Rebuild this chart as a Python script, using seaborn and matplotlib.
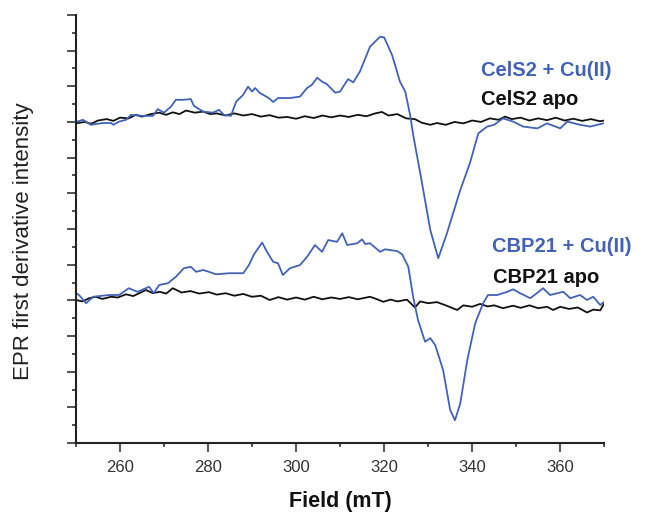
import numpy as np
import pandas as pd
import matplotlib
matplotlib.use("Agg")
import matplotlib.pyplot as plt
import seaborn as sns
from matplotlib.ticker import MultipleLocator

# ---------------- data ----------------
celS2_cu_field = [250.0, 251.6, 253.4, 256.1, 258.0, 258.5, 259.8, 261.4, 262.5, 265.2,
                  267.5, 268.6, 270.0, 271.6, 272.7, 274.3, 276.1, 276.8, 278.9, 281.1,
                  282.5, 283.6, 285.2, 286.4, 288.0, 289.1, 290.0, 290.7, 291.8, 293.4,
                  294.1, 294.8, 295.9, 298.6, 300.9, 302.5, 303.6, 304.8, 305.9, 307.0,
                  308.9, 310.0, 311.8, 313.0, 314.5, 316.8, 319.1, 320.0, 321.8, 323.6,
                  324.8, 325.9, 326.6, 328.2, 330.5, 332.3, 334.3, 337.3, 339.5, 341.4,
                  343.4, 345.0, 347.0, 349.3, 351.6, 354.8, 357.0, 360.0, 361.6, 364.5,
                  366.8, 369.8]
celS2_cu_signal = [9.00, 9.06, 8.92, 8.97, 8.97, 8.92, 9.01, 9.06, 9.20, 9.17,
                   9.17, 9.36, 9.26, 9.43, 9.62, 9.62, 9.64, 9.45, 9.29, 9.26,
                   9.34, 9.20, 9.17, 9.57, 9.76, 9.99, 9.85, 9.95, 9.81, 9.70,
                   9.64, 9.56, 9.67, 9.67, 9.71, 9.95, 10.04, 10.24, 10.13, 10.06,
                   9.82, 9.85, 10.20, 10.11, 10.41, 11.11, 11.39, 11.37, 10.88, 10.13,
                   9.85, 9.20, 8.64, 7.57, 5.97, 5.18, 5.89, 7.09, 7.85, 8.68,
                   8.87, 8.92, 9.10, 9.01, 8.87, 8.82, 8.96, 8.82, 9.01, 8.92,
                   8.87, 8.96]

celS2_apo_field = [250.0, 252.0, 253.5, 255.0, 257.0, 258.5, 260.0, 262.0, 263.6, 265.0,
                   267.0, 268.9, 270.5, 272.0, 273.5, 275.0, 277.0, 278.9, 280.5, 282.0,
                   284.0, 286.0, 288.0, 290.0, 292.0, 294.0, 296.0, 298.0, 300.0, 302.0,
                   304.0, 306.0, 308.0, 310.0, 312.0, 314.0, 316.0, 318.0, 319.5, 321.0,
                   323.0, 325.0, 327.0, 328.5, 330.5, 332.0, 334.0, 336.0, 338.0, 340.0,
                   342.0, 344.0, 346.0, 347.5, 349.0, 351.0, 353.0, 355.0, 357.0, 359.0,
                   361.0, 363.0, 365.0, 367.0, 369.0, 370.0]
celS2_apo_signal = [8.96, 9.00, 8.95, 9.04, 9.08, 9.03, 9.12, 9.10, 9.20, 9.15,
                    9.22, 9.26, 9.20, 9.27, 9.22, 9.32, 9.26, 9.29, 9.22, 9.24,
                    9.18, 9.24, 9.18, 9.22, 9.15, 9.19, 9.12, 9.14, 9.09, 9.16,
                    9.11, 9.18, 9.13, 9.18, 9.14, 9.20, 9.16, 9.24, 9.28, 9.18,
                    9.22, 9.10, 9.08, 8.98, 8.92, 8.97, 8.92, 9.00, 8.96, 9.04,
                    9.00, 9.10, 9.06, 9.15, 9.08, 9.12, 9.04, 9.10, 9.05, 9.12,
                    9.04, 9.09, 9.03, 9.08, 9.02, 9.04]

cbp21_cu_field = [250.0, 250.7, 252.3, 253.9, 257.5, 259.8, 262.0, 264.0, 266.6, 267.7,
                  268.9, 270.9, 272.7, 274.5, 276.1, 277.3, 278.9, 280.2, 281.8, 284.8,
                  288.0, 289.3, 290.5, 292.3, 293.4, 294.8, 295.9, 297.0, 298.6, 300.9,
                  302.5, 304.3, 305.9, 307.3, 309.3, 310.5, 311.6, 313.9, 315.0, 315.7,
                  316.8, 319.1, 320.2, 323.0, 324.1, 325.5, 326.6, 327.7, 329.3, 330.5,
                  331.6, 333.4, 335.0, 336.1, 337.3, 338.9, 340.7, 342.5, 343.6, 345.7,
                  348.0, 349.3, 350.9, 353.2, 354.8, 356.1, 357.7, 360.7, 362.3, 364.5,
                  366.1, 367.5, 369.1, 370.0]
cbp21_cu_signal = [4.20, 4.15, 3.92, 4.10, 4.15, 4.15, 4.34, 4.24, 4.38, 4.20,
                   4.43, 4.48, 4.66, 4.90, 4.94, 4.80, 4.85, 4.80, 4.73, 4.76,
                   4.76, 4.99, 5.30, 5.62, 5.36, 5.08, 5.04, 4.71, 4.90, 4.99,
                   5.22, 5.55, 5.36, 5.69, 5.64, 5.88, 5.55, 5.60, 5.71, 5.58,
                   5.60, 5.36, 5.43, 5.38, 5.29, 4.94, 4.10, 3.45, 2.84, 2.94,
                   2.75, 2.05, 0.93, 0.64, 1.11, 2.33, 3.36, 3.92, 4.15, 4.15,
                   4.24, 4.31, 4.20, 4.06, 4.21, 4.34, 4.15, 4.24, 4.06, 4.15,
                   4.01, 4.10, 3.87, 3.96]

cbp21_apo_field = [250.0, 251.5, 253.0, 254.5, 256.0, 258.0, 259.5, 261.4, 263.0, 265.9,
                   267.5, 269.0, 270.5, 272.0, 274.0, 276.0, 278.0, 280.2, 282.0, 284.0,
                   286.0, 288.0, 290.0, 292.0, 294.0, 296.0, 298.0, 300.0, 302.0, 304.0,
                   306.0, 308.0, 310.0, 312.0, 314.0, 316.8, 318.0, 319.8, 321.5, 323.0,
                   325.2, 327.0, 328.2, 330.0, 332.0, 334.0, 336.6, 338.0, 340.0, 341.8,
                   343.5, 345.0, 347.0, 349.3, 351.0, 353.0, 355.0, 357.0, 358.4, 360.0,
                   362.0, 364.0, 366.1, 367.5, 369.1, 370.0]
cbp21_apo_signal = [4.01, 3.97, 4.06, 4.10, 4.04, 4.10, 4.08, 4.17, 4.12, 4.29,
                    4.20, 4.24, 4.19, 4.34, 4.22, 4.26, 4.19, 4.23, 4.16, 4.20,
                    4.13, 4.18, 4.10, 4.13, 4.01, 4.09, 4.02, 4.08, 4.02, 4.10,
                    4.03, 4.08, 4.04, 4.09, 4.03, 4.10, 4.05, 3.96, 4.02, 3.97,
                    4.02, 3.80, 3.97, 3.92, 3.95, 3.86, 3.73, 3.86, 3.82, 3.90,
                    3.83, 3.86, 3.78, 3.85, 3.79, 3.86, 3.78, 3.82, 3.73, 3.82,
                    3.76, 3.80, 3.66, 3.74, 3.72, 3.92]

labels = ["CelS2 + Cu(II)", "CelS2 apo", "CBP21 + Cu(II)", "CBP21 apo"]
x_ticks = [260, 280, 300, 320, 340, 360]

# ---------------- styling ----------------
sns.set_style("ticks")
plt.rcParams["font.family"] = ["Liberation Sans", "DejaVu Sans"]

BLUE = "#4262b8"
BLACK = "#111111"

fig = plt.figure(figsize=(6.49, 5.14), dpi=100)
ax = fig.add_axes([0.117, 0.138, 0.814, 0.833])

series = [
    (celS2_apo_field, celS2_apo_signal, BLACK),
    (cbp21_apo_field, cbp21_apo_signal, BLACK),
    (celS2_cu_field, celS2_cu_signal, BLUE),
    (cbp21_cu_field, cbp21_cu_signal, BLUE),
]
for fx, fy, col in series:
    df = pd.DataFrame({"field": fx, "signal": fy})
    sns.lineplot(data=df, x="field", y="signal", ax=ax, color=col,
                 linewidth=1.3, estimator=None, sort=False)

ax.set_xlim(250, 370)
ax.set_ylim(0, 12)
ax.set_xticks(x_ticks)
ax.xaxis.set_minor_locator(MultipleLocator(10))
ax.yaxis.set_major_locator(MultipleLocator(1))
ax.yaxis.set_minor_locator(MultipleLocator(0.5))
ax.set_yticklabels([])
ax.tick_params(axis="both", which="major", direction="out", length=6.5, width=1.1,
               color="#222222", labelsize=12, labelcolor="#333333", pad=6)
ax.tick_params(axis="both", which="minor", direction="out", length=3.2, width=1.1,
               color="#222222")
sns.despine(ax=ax, top=True, right=True)
for s in ("left", "bottom"):
    ax.spines[s].set_linewidth(1.5)
    ax.spines[s].set_color("#222222")

ax.set_xlabel("Field (mT)", fontsize=15.5, fontweight="bold", labelpad=11, color="#111111")
ax.set_ylabel("")
fig.text(0.036, 0.53, "EPR first derivative intensity", rotation=90, fontsize=16,
         ha="center", va="center", color="#222222")

ax.text(342.0, 10.43, labels[0], color=BLUE, fontsize=14.5, fontweight="bold",
        ha="left", va="center")
ax.text(342.0, 9.62, labels[1], color=BLACK, fontsize=14.5, fontweight="bold",
        ha="left", va="center")
ax.text(344.5, 5.52, labels[2], color=BLUE, fontsize=14.5, fontweight="bold",
        ha="left", va="center")
ax.text(344.8, 4.65, labels[3], color=BLACK, fontsize=14.5, fontweight="bold",
        ha="left", va="center")

fig.savefig("out.png", dpi=100)
